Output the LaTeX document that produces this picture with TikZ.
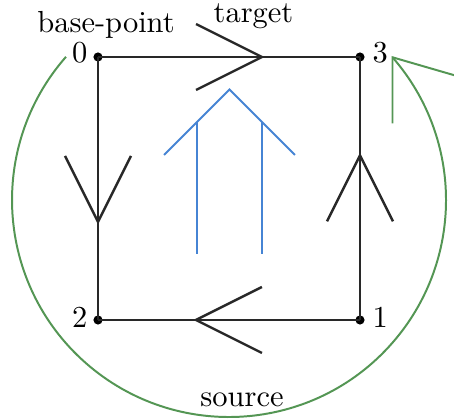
\documentclass[tikz,border=0pt]{standalone}
\definecolor{edgec}{RGB}{40,40,40}
\definecolor{greenc}{RGB}{84,150,84}
\definecolor{bluec}{RGB}{70,132,212}
\begin{document}
\begin{tikzpicture}[x=0.328pt,y=0.328pt,
  dot/.style={circle,fill=black,inner sep=0pt,minimum size=3pt},
  edge/.style={draw=edgec,line width=0.8pt},
  greenline/.style={draw=greenc,line width=0.65pt},
  blueline/.style={draw=bluec,line width=0.65pt},
  lbl/.style={inner sep=0pt,font=\normalsize}]
\useasboundingbox (0,0) rectangle (454,419);
% vertices
\node[dot] (n0) at (98,362) {};
\node[dot] (n3) at (360,362) {};
\node[dot] (n2) at (98,99) {};
\node[dot] (n1) at (360,99) {};
% labels
\node[lbl,anchor=base east] (l0) at (88,356.5) {0};
\node[lbl,anchor=base west] (l3) at (372,356.5) {3};
\node[lbl,anchor=base east] (l2) at (88,91) {2};
\node[lbl,anchor=base west] (l1) at (372,91) {1};
\node[lbl,anchor=base] (tbase) at (106,386) {base-point};
\node[lbl,anchor=base] (ttarget) at (253.5,396) {target};
\node[lbl,anchor=base] (tsource) at (242,12) {source};
% edges
\path[edge] (n0.center) -- coordinate[pos=0.626] (m03) (n3.center);
\path[edge] (n0.center) -- coordinate[pos=0.627] (m02) (n2.center);
\path[edge] (n1.center) -- coordinate[pos=0.626] (m13) (n3.center);
\path[edge] (n1.center) -- coordinate[pos=0.626] (m12) (n2.center);
% arrowheads
\path[edge] (m03) ++(-66,33) -- (m03) -- ++(-66,-33);
\path[edge] (m02) ++(-33,66) -- (m02) -- ++(33,66);
\path[edge] (m13) ++(-33,-66) -- (m13) -- ++(33,-66);
\path[edge] (m12) ++(66,33) -- (m12) -- ++(66,-33);
% blue double arrow
\coordinate (bl) at (197,165);
\coordinate (br) at (262,165);
\coordinate (bt) at (229.5,329.5);
\path[blueline] (bl) -- (197,297);
\path[blueline] (br) -- (262,297);
\path[blueline] (164,264) -- (bt) -- (295,264);
% green loop
\coordinate (gs) at (66,362.2);
\coordinate (gt) at (392.5,361.7);
\path[greenline] (gs) arc[start angle=138.7,end angle=401.1,radius=71.18pt];
\path[greenline] (392.5,295.7) -- (gt) -- (455.9,343.3);
\end{tikzpicture}
\end{document}
